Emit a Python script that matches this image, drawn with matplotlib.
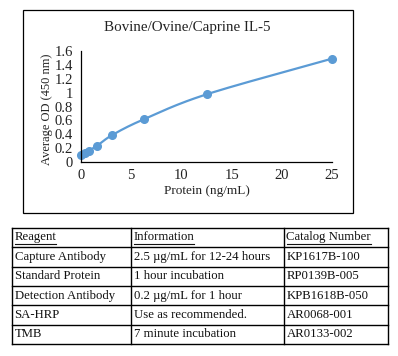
import numpy as np
import matplotlib
matplotlib.use("Agg")
import matplotlib.pyplot as plt
from matplotlib.patches import Rectangle

# ---- data ----
protein = [0, 0.39, 0.78, 1.56, 3.125, 6.25, 12.5, 25]
od = [0.10, 0.125, 0.165, 0.23, 0.39, 0.615, 0.975, 1.49]
title = "Bovine/Ovine/Caprine IL-5"
xlabel = "Protein (ng/mL)"
ylabel = "Average OD (450 nm)"
xticks = [0, 5, 10, 15, 20, 25]
yticks = [0, 0.2, 0.4, 0.6, 0.8, 1.0, 1.2, 1.4, 1.6]
ytick_labels = ["0", "0.2", "0.4", "0.6", "0.8", "1", "1.2", "1.4", "1.6"]

table_header = ["Reagent", "Information", "Catalog Number"]
col_reagent = ["Capture Antibody", "Standard Protein", "Detection Antibody", "SA-HRP", "TMB"]
col_info = ["2.5 µg/mL for 12-24 hours", "1 hour incubation", "0.2 µg/mL for 1 hour",
            "Use as recommended.", "7 minute incubation"]
col_catalog = ["KP1617B-100", "RP0139B-005", "KPB1618B-050", "AR0068-001", "AR0133-002"]

FONT = "Liberation Serif"
W, H = 398, 356
fig = plt.figure(figsize=(W / 100, H / 100), dpi=100)
fig.patch.set_facecolor("white")

def px(x0, y0, x1, y1):
    return [x0 / W, 1 - y1 / H, (x1 - x0) / W, (y1 - y0) / H]

# chart border
fig.patches.append(Rectangle((23 / W, 1 - 213 / H), (353 - 23) / W, (213 - 10) / H,
                             transform=fig.transFigure, fill=False, edgecolor="black",
                             linewidth=0.9))

ax = fig.add_axes(px(81, 51, 332, 162))
# smooth curve (Catmull-Rom through the data points)
xs = np.array(protein, float)
ys = np.array(od, float)
P = np.column_stack([xs, ys])
Pp = np.vstack([P[0] - (P[1] - P[0]), P, P[-1] + (P[-1] - P[-2])])
curve = []
t = np.linspace(0, 1, 30)[:, None]
for i in range(1, len(Pp) - 2):
    p0, p1, p2, p3 = Pp[i - 1], Pp[i], Pp[i + 1], Pp[i + 2]
    seg = 0.5 * ((2 * p1) + (-p0 + p2) * t + (2 * p0 - 5 * p1 + 4 * p2 - p3) * t ** 2
                 + (-p0 + 3 * p1 - 3 * p2 + p3) * t ** 3)
    curve.append(seg)
curve = np.vstack(curve)
color = "#5B9BD5"
ax.plot(curve[:, 0], curve[:, 1], color=color, linewidth=1.6, clip_on=False)
ax.plot(xs, ys, "o", color=color, markersize=5.5, clip_on=False)

ax.set_xlim(0, 25)
ax.set_ylim(0, 1.6)
ax.set_xticks(xticks)
ax.set_xticklabels([str(v) for v in xticks])
ax.set_yticks(yticks)
ax.set_yticklabels(ytick_labels)
ax.tick_params(length=0, labelsize=10.5, pad=5)
ax.tick_params(axis="y", pad=6)
for lab in ax.get_xticklabels() + ax.get_yticklabels():
    lab.set_fontfamily(FONT)
    lab.set_color("#222222")
for s in ["top", "right"]:
    ax.spines[s].set_visible(False)
for s in ["left", "bottom"]:
    ax.spines[s].set_color("black")
    ax.spines[s].set_linewidth(0.9)
ax.set_facecolor("none")

fig.text(187 / W, 1 - 28 / H, title, ha="center", va="center", fontsize=10.8,
         family=FONT, color="#222222")
fig.text(207 / W, 1 - 191 / H, xlabel, ha="center", va="center", fontsize=9.5,
         family=FONT, color="#222222")
fig.text(47 / W, 1 - 109 / H, ylabel, ha="center", va="center", fontsize=9,
         family=FONT, color="#222222", rotation=90)

# ---- table ----
tx0, tx1 = 12, 388
ty0, ty1 = 228, 344
col_edges = [12, 131, 284, 388]
nrows = 1 + len(col_reagent)
row_h = (ty1 - ty0) / nrows
tax = fig.add_axes(px(tx0, ty0, tx1, ty1))
tax.set_xlim(tx0, tx1)
tax.set_ylim(ty1, ty0)
tax.axis("off")
lw = 1.0
for i in range(nrows + 1):
    y = ty0 + i * row_h
    tax.plot([tx0, tx1], [y, y], color="black", linewidth=lw, clip_on=False)
for x in col_edges:
    tax.plot([x, x], [ty0, ty1], color="black", linewidth=lw, clip_on=False)

rows = [table_header] + [list(r) for r in zip(col_reagent, col_info, col_catalog)]
header_texts = []
for r, row in enumerate(rows):
    yc = ty0 + (r + 0.5) * row_h
    for c, val in enumerate(row):
        t_ = tax.text(col_edges[c] + 2.5, yc - (1 if r == 0 else 0), val, ha="left",
                      va="center", fontsize=9.2, family=FONT, color="#111111")
        if r == 0:
            header_texts.append(t_)

fig.canvas.draw()
renderer = fig.canvas.get_renderer()
inv = tax.transData.inverted()
for t_ in header_texts:
    bb = t_.get_window_extent(renderer)
    (x0, y0), (x1, y1) = inv.transform([[bb.x0, bb.y0], [bb.x1, bb.y1]])
    yl = ty0 + row_h - 3.5
    tax.plot([x0, x1], [yl, yl], color="#111111", linewidth=0.8)

fig.savefig("out.png", dpi=100, facecolor="white")
